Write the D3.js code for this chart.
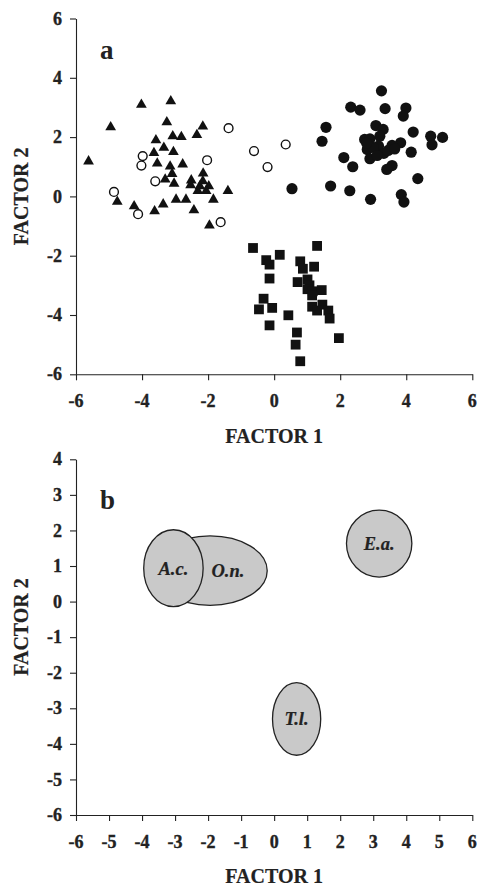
<!DOCTYPE html>
<html>
<head>
<meta charset="utf-8">
<script src="https://cdnjs.cloudflare.com/ajax/libs/d3/7.8.5/d3.min.js"></script>
<style>
  html, body { margin: 0; padding: 0; background: #fff; }
  svg { display: block; }
</style>
</head>
<body>
<svg id="chart" width="478" height="885"></svg>
<script>
// ---------- DATA ----------
// Panel a: factor scores (FACTOR 1, FACTOR 2)
const triangles = [
  [-4.02,3.12],[-3.13,3.24],[-4.95,2.36],[-3.25,2.53],[-2.16,2.39],[-2.34,2.10],[-3.07,2.06],[-2.81,2.03],
  [-3.58,1.92],[-3.34,1.67],[-3.05,1.53],[-3.64,1.49],[-5.62,1.21],[-3.54,1.14],[-2.77,1.11],[-3.15,1.04],
  [-3.09,0.79],[-2.15,0.80],[-3.30,0.60],[-3.03,0.46],[-2.51,0.57],[-2.53,0.41],[-2.16,0.54],[-2.25,0.37],
  [-2.31,0.21],[-1.98,0.37],[-2.06,0.21],[-1.40,0.21],[-2.97,-0.08],[-2.67,-0.08],[-1.84,-0.08],[-4.75,-0.15],
  [-3.36,-0.24],[-4.24,-0.30],[-3.62,-0.47],[-2.43,-0.44],[-1.96,-0.95]
];
const openCircles = [
  [-1.38,2.30],[-3.98,1.36],[-4.02,1.04],[-2.03,1.22],[-3.60,0.51],[-4.85,0.15],
  [-4.12,-0.60],[-1.62,-0.87],[-0.61,1.53],[-0.20,0.99],[0.35,1.75]
];
const filledCircles = [
  [3.25,3.56],[2.32,3.01],[2.60,2.91],[3.36,2.96],[3.99,2.98],[3.91,2.71],[1.57,2.33],[1.45,1.86],
  [3.08,2.39],[3.30,2.26],[3.20,2.03],[2.74,1.92],[2.90,1.94],[4.21,2.17],[4.74,2.03],[5.10,1.99],
  [4.78,1.74],[3.83,1.81],[3.57,1.72],[3.16,1.70],[2.82,1.58],[4.15,1.49],[3.32,1.45],[2.11,1.31],
  [2.90,1.27],[2.38,1.00],[3.57,1.04],[3.41,0.91],[4.35,0.60],[0.54,0.26],[1.71,0.35],[2.29,0.19],
  [2.92,-0.10],[3.85,0.06],[3.93,-0.19],[3.00,1.65],[3.45,1.55],[3.12,1.38],[2.80,1.80],[3.65,1.60]
];
const squares = [
  [-0.64,-1.74],[1.30,-1.67],[0.17,-1.97],[-0.24,-2.15],[-0.14,-2.30],[0.79,-2.19],[0.87,-2.44],[1.21,-2.37],
  [-0.14,-2.77],[0.71,-2.89],[1.01,-2.80],[1.07,-3.00],[1.01,-3.13],[1.17,-3.20],[1.44,-3.16],[1.15,-3.34],
  [-0.32,-3.45],[-0.46,-3.81],[-0.06,-3.76],[1.15,-3.72],[1.46,-3.65],[1.30,-3.85],[1.64,-3.85],[1.68,-4.12],
  [0.43,-4.01],[-0.14,-4.35],[0.69,-4.59],[1.96,-4.78],[0.65,-5.00],[0.79,-5.56]
];
const ticksA_x = [-6,-4,-2,0,2,4,6];
const ticksA_y = [-6,-4,-2,0,2,4,6];

// Panel b: group ellipses
const groupNames = ["O.n.","A.c.","E.a.","T.l."];
const groupCX    = [-1.94,-3.05, 3.18, 0.68];
const groupCY    = [ 0.87, 0.94, 1.63,-3.30];
const groupRX    = [ 1.73, 0.90, 0.99, 0.73];
const groupRY    = [ 0.975,1.08, 0.94, 1.02];
const groupLabelX= [-1.40,-3.05, 3.18, 0.68];
const ticksB_x = [-6,-5,-4,-3,-2,-1,0,1,2,3,4,5,6];
const ticksB_y = [-6,-5,-4,-3,-2,-1,0,1,2,3,4];

// ---------- DRAW ----------
const svg = d3.select("#chart");
const serif = "Liberation Serif";
const ink = "#222";

function boldText(sel, size, stroke) {
  sel.attr("font-family", serif).attr("font-weight", "bold")
    .attr("font-size", size).attr("fill", ink);
  if (stroke) sel.attr("stroke", ink).attr("stroke-width", stroke);
  return sel;
}

function drawAxes(g, x, y, tx, ty) {
  // axis lines and ticks from d3 axes (labels drawn separately)
  g.append("g").attr("transform", `translate(0,${y.range()[0]})`)
    .call(d3.axisBottom(x).tickValues(tx).tickSize(6).tickSizeOuter(0).tickFormat(""))
    .call(s => { s.select(".domain").attr("stroke", ink).attr("stroke-width", 1.1);
                 s.selectAll(".tick line").attr("stroke", ink).attr("stroke-width", 1.1); });
  g.append("g").attr("transform", `translate(${x.range()[0]},0)`)
    .call(d3.axisLeft(y).tickValues(ty).tickSize(6).tickSizeOuter(0).tickFormat(""))
    .call(s => { s.select(".domain").attr("stroke", ink).attr("stroke-width", 1.1);
                 s.selectAll(".tick line").attr("stroke", ink).attr("stroke-width", 1.1); });
  // tick labels
  g.append("g").selectAll("text").data(tx).join("text")
    .attr("x", d => x(d)).attr("y", y.range()[0] + 32.5).attr("text-anchor", "middle")
    .call(boldText, 18, 0.35).text(d => String(d));
  g.append("g").selectAll("text").data(ty).join("text")
    .attr("x", x.range()[0] - 14).attr("y", d => y(d)).attr("dy", "0.34em").attr("text-anchor", "end")
    .call(boldText, 18, 0.35).text(d => String(d));
}

// ===== Panel a =====
const xA = d3.scaleLinear().domain([-6,6]).range([76,472.3]);
const yA = d3.scaleLinear().domain([-6,6]).range([374.3,18.5]);
const gA = svg.append("g");
drawAxes(gA, xA, yA, ticksA_x, ticksA_y);

gA.selectAll("path.tri").data(triangles).join("path")
  .attr("class","tri")
  .attr("d", d3.symbol().type(d3.symbolTriangle).size(50))
  .attr("transform", d => `translate(${xA(d[0])},${yA(d[1]) + 0.8})`)
  .attr("fill", "#111");

gA.selectAll("circle.open").data(openCircles).join("circle")
  .attr("class","open")
  .attr("cx", d => xA(d[0])).attr("cy", d => yA(d[1]))
  .attr("r", 4.4).attr("fill", "none").attr("stroke", "#111").attr("stroke-width", 1.4);

gA.selectAll("circle.filled").data(filledCircles).join("circle")
  .attr("class","filled")
  .attr("cx", d => xA(d[0])).attr("cy", d => yA(d[1]))
  .attr("r", 5.6).attr("fill", "#111");

gA.selectAll("path.sq").data(squares).join("path")
  .attr("class","sq")
  .attr("d", d3.symbol().type(d3.symbolSquare).size(96))
  .attr("transform", d => `translate(${xA(d[0])},${yA(d[1])})`)
  .attr("fill", "#111");

gA.append("text").attr("x", 100).attr("y", 59).call(boldText, 27).text("a");
gA.append("text").attr("x", (xA(-6)+xA(6))/2).attr("y", 442.5).attr("text-anchor","middle")
  .call(boldText, 20, 0.2).text("FACTOR 1");
gA.append("text").attr("transform", `translate(28,${yA(0)}) rotate(-90)`).attr("text-anchor","middle")
  .call(boldText, 20, 0.2).text("FACTOR 2");

// ===== Panel b =====
const xB = d3.scaleLinear().domain([-6,6]).range([76,472.3]);
const yB = d3.scaleLinear().domain([-6,4]).range([815,459.3]);
const gB = svg.append("g");
drawAxes(gB, xB, yB, ticksB_x, ticksB_y);

const groups = groupNames.map((n,i) => ({name:n, cx:groupCX[i], cy:groupCY[i], rx:groupRX[i], ry:groupRY[i], lx:groupLabelX[i]}));
gB.selectAll("ellipse.grp").data(groups).join("ellipse")
  .attr("class","grp")
  .attr("cx", d => xB(d.cx)).attr("cy", d => yB(d.cy))
  .attr("rx", d => xB(d.cx + d.rx) - xB(d.cx))
  .attr("ry", d => yB(d.cy) - yB(d.cy + d.ry))
  .attr("fill", "#c9c9c9").attr("stroke", ink).attr("stroke-width", 1.3);
gB.selectAll("text.grp").data(groups).join("text")
  .attr("class","grp")
  .attr("x", d => xB(d.lx)).attr("y", d => yB(d.cy)).attr("dy", "0.35em")
  .attr("text-anchor","middle")
  .call(boldText, 18.5, 0.2).attr("font-style","italic")
  .text(d => d.name);

gB.append("text").attr("x", 100).attr("y", 509).call(boldText, 27).text("b");
gB.append("text").attr("x", (xB(-6)+xB(6))/2).attr("y", 882.5).attr("text-anchor","middle")
  .call(boldText, 20, 0.2).text("FACTOR 1");
gB.append("text").attr("transform", `translate(28,627) rotate(-90)`).attr("text-anchor","middle")
  .call(boldText, 20, 0.2).text("FACTOR 2");
</script>
</body>
</html>
